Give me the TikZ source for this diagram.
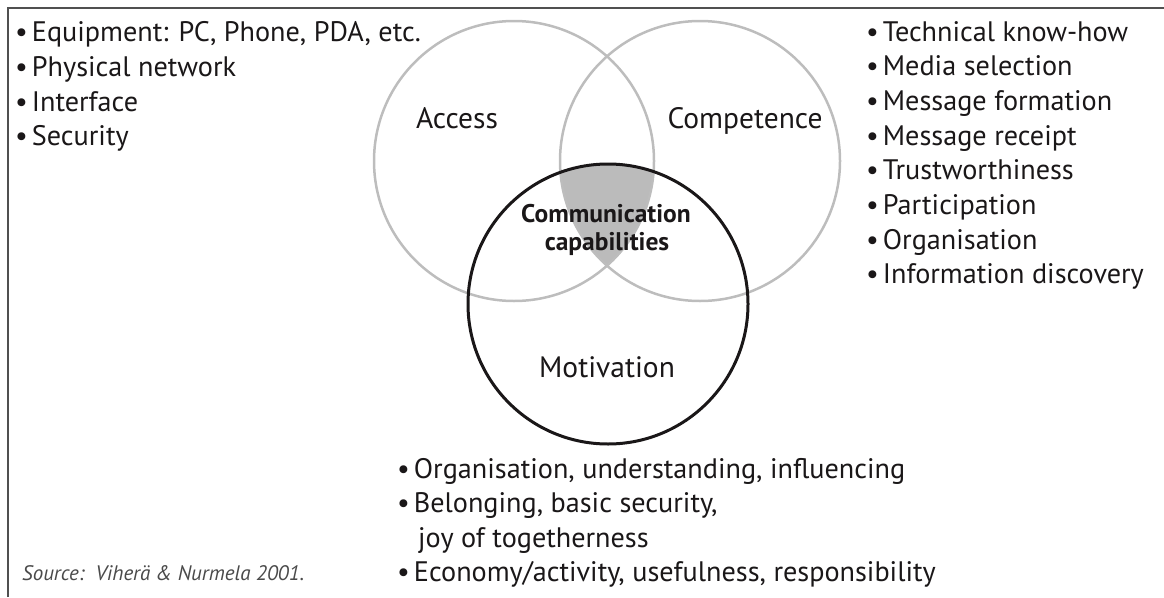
\documentclass[tikz,border=0pt]{standalone}
\usepackage{fontspec}
\setmainfont{PT Sans}
\definecolor{txt}{HTML}{1A1718}
\definecolor{ring}{HTML}{BDBDBD}
\definecolor{core}{HTML}{BBBBBB}
\definecolor{framec}{HTML}{505050}
\definecolor{srcc}{HTML}{4A4A4A}
\newcommand{\bl}{\textbullet\kern 4pt}
\begin{document}
\begin{tikzpicture}[x=1pt,y=-1pt,
  item/.style={anchor=base west, inner sep=0pt, text=txt, font=\fontsize{28.2}{34}\selectfont},
  lab/.style={anchor=base, inner sep=0pt, text=txt, font=\fontsize{29.5}{34}\selectfont},
  boldlab/.style={anchor=base, inner sep=0pt, text=txt, font=\fontsize{25.5}{28}\selectfont\bfseries},
  grayring/.style={circle, draw=ring, line width=2.5pt, minimum size=280pt, inner sep=0pt},
  blackring/.style={circle, draw=txt, line width=3pt, minimum size=280pt, inner sep=0pt},
  source/.style={anchor=base west, inner sep=0pt, text=srcc, font=\fontsize{21}{24}\selectfont\itshape}]
\useasboundingbox (0,0) rectangle (1164,597);
\draw[framec, line width=2pt] (8,597) -- (8,8) -- (1164,8);
% shaded intersection
\begin{scope}
  \clip (514,161) circle (140pt);
  \clip (700,161) circle (140pt);
  \fill[core] (608,304) circle (140pt);
\end{scope}
\node[grayring] (access) at (514,161) {};
\node[grayring] (comp) at (700,161) {};
\node[blackring] (motiv) at (608,304) {};
% circle labels
\node[lab] (laccess) at (457,128) {Access};
\node[lab] (lcomp) at (745,128) {Competence};
\node[boldlab] (lcc1) at (606,222) {Communication};
\node[boldlab] (lcc2) at (607,250) {capabilities};
\node[lab] (lmotiv) at (607,377) {Motivation};
% left list
\node[item] (a1) at (15,41.7) {\bl Equipment: PC, Phone, PDA, etc.};
\node[item] (a2) at (15,76.3) {\bl Physical network};
\node[item] (a3) at (15,111) {\bl Interface};
\node[item] (a4) at (15,145.6) {\bl Security};
% right list
\node[item] (c1) at (866,41) {\bl Technical know-how};
\node[item] (c2) at (866,75.7) {\bl Media selection};
\node[item] (c3) at (866,110.4) {\bl Message formation};
\node[item] (c4) at (866,145.1) {\bl Message receipt};
\node[item] (c5) at (866,179.8) {\bl Trustworthiness};
\node[item] (c6) at (866,214.5) {\bl Participation};
\node[item] (c7) at (866,249.2) {\bl Organisation};
\node[item] (c8) at (866,283.9) {\bl Information discovery};
% bottom list
\node[item] (m1) at (397,478) {\bl Organisation, understanding, influencing};
\node[item] (m2) at (397,512.5) {\bl Belonging, basic security,};
\node[item] (m3) at (418,547) {joy of togetherness};
\node[item] (m4) at (397,581) {\bl Economy/activity, usefulness, responsibility};
% source
\node[source] (src) at (22,580) {Source:\ \ Viherä \& Nurmela 2001.};
\end{tikzpicture}
\end{document}
